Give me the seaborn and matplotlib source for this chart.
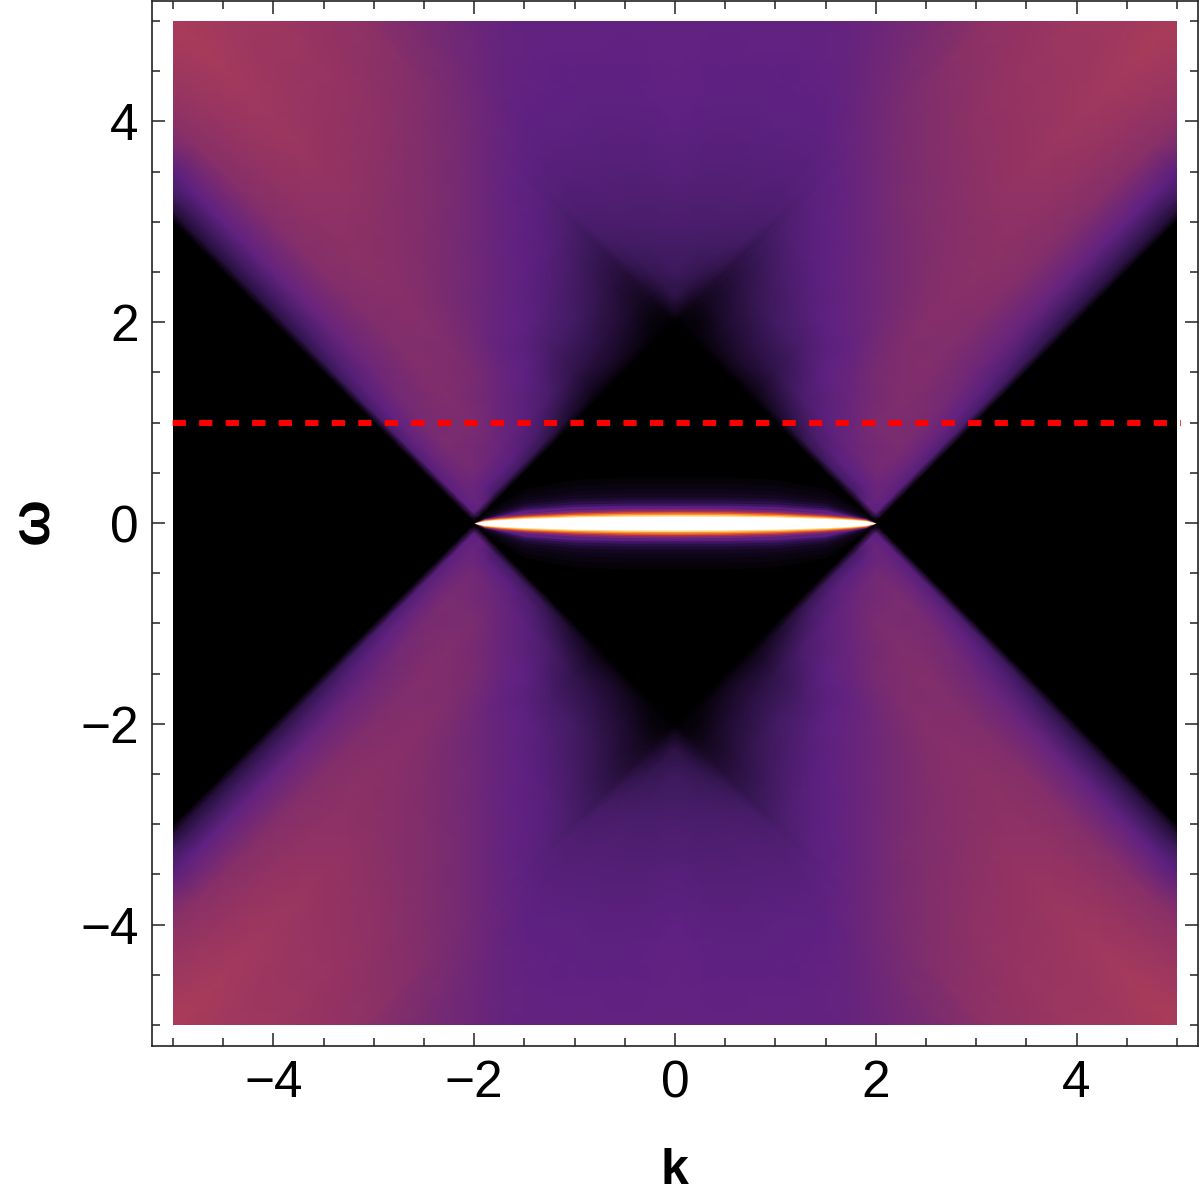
import numpy as np
import matplotlib
matplotlib.use("Agg")
import matplotlib.pyplot as plt
import seaborn as sns
from matplotlib.colors import LinearSegmentedColormap
from matplotlib.patches import Rectangle
from matplotlib.transforms import Affine2D

# ---- intensity, on light-cone coordinates u=k+w, v=k-w ----
axis_pos = [0, .5, 1, 1.5, 1.75, 1.9, 2, 2.1, 2.25, 2.5, 3, 3.5, 4, 4.5, 5, 5.5, 6, 6.5, 7, 7.5, 8, 8.5, 9, 9.5, 10]

# each row holds the values for u running over axis_pos from |v| up to 10-|v|
row_p190 = [0, 0, 38, 40, 38, 36, 33, 30, 26, 22, 19, 17, 16, 15, 14, 13]
row_p175 = [0, 0, 0, 42, 46, 46, 46, 44, 41, 37, 33, 29, 27, 26, 25, 24, 23]
row_p150 = [0, 0, 0, 0, 28, 40, 52, 56, 55, 52, 48, 46, 45, 44, 43, 42, 41, 40, 38]
row_p100 = [0, 0, 0, 0, 0, 26, 38, 46, 56, 60, 61, 60, 60, 61, 62, 62, 62, 63, 64, 65, 67]
row_p050 = [0, 0, 0, 0, 0, 0, 20, 30, 38, 46, 55, 59, 62, 64, 66, 67, 68, 70, 71, 73, 74, 76, 78]
row_000 = [0, 0, 0, 0, 0, 0, 0, 11, 18, 30, 40, 43, 50, 55, 60, 63, 66, 70, 73, 76, 78, 81, 83, 85, 87]
row_m050 = [0, 0, 0, 0, 0, 0, 5, 10, 19, 30, 40, 44, 50, 55, 60, 63, 67, 70, 73, 75, 77, 79, 81]
row_m100 = [0, 0, 0, 0, 0, 5, 10, 16, 27, 34, 40, 44, 50, 56, 60, 64, 68, 71, 74, 76, 78]
row_m150 = [0, 0, 0, 0, 3, 6, 11, 20, 28, 36, 40, 44, 50, 56, 60, 64, 67, 70, 72]
row_m175 = [0, 0, 0, 2, 3, 8, 16, 24, 33, 38, 42, 47, 53, 58, 62, 66, 69]
row_m190 = [0, 0, 2, 3, 7, 15, 23, 31, 37, 41, 46, 52, 57, 61, 65, 68]
row_m200 = [0, 2, 4, 8, 15, 22, 29, 35, 39, 44, 50, 55, 58, 61, 65]
row_m210 = [8, 9, 12, 20, 27, 32, 36, 39, 44, 49, 54, 57, 60]
row_m225 = [18, 19, 24, 29, 32, 35, 38, 43, 48, 52, 56, 59]
row_m250 = [25, 27, 31, 34, 36, 38, 40, 44, 49, 52, 55]
row_m300 = [32, 33, 35, 37, 39, 40, 42, 44, 48]
row_m350 = [37, 37, 38, 39, 40, 41, 42]
row_m400 = [40, 40, 40, 41, 42]
row_m450 = [41, 41, 41]
row_m500 = [42]
row_v = [1.9, 1.75, 1.5, 1, .5, 0, -.5, -1, -1.5, -1.75, -1.9, -2, -2.1, -2.25, -2.5, -3, -3.5, -4, -4.5, -5]
row_list = [row_p190, row_p175, row_p150, row_p100, row_p050, row_000, row_m050, row_m100, row_m150,
            row_m175, row_m190, row_m200, row_m210, row_m225, row_m250, row_m300, row_m350,
            row_m400, row_m450, row_m500]

# the thin bright band at w=0 and the faint glow round it
band_k = [-2, -1.9, -1.75, -1.5, -1, -.5, 0, .5, 1, 1.5, 1.75, 1.9, 2]
band_shape = [0, .31, .48, .66, .87, .97, 1, .97, .87, .66, .48, .31, 0]
glow_shape = [0, .2, .42, .75, .95, 1, 1, 1, .95, .75, .42, .2, 0]
glow_half = [.46, .40, .34, .30, .26, .23, .20, .175]
glow_colors = ["#050208", "#09040f", "#0e0618", "#140722", "#1e0b32", "#2b0f48", "#3f1666", "#5c1f7f"]
band_half = [.15, .13, .115, .10, .085, .07]
band_colors = ["#7a2872", "#a83254", "#e15532", "#fa9628", "#ffd782", "#ffffff"]

ref_k = [-5.04, 5.04]
ref_w = [1, 1]

k_ticks = [-4, -2, 0, 2, 4]
k_minor = [-5, -4.5, -3.5, -3, -2.5, -1.5, -1, -.5, .5, 1, 1.5, 2.5, 3, 3.5, 4.5, 5]
tick_text = ["\u22124", "\u22122", "0", "2", "4"]

cmap_pos = [0, .10, .25, .40, .58, .70, .87, 1]
cmap_col = ["#000000", "#1c0a2c", "#3e1a5e", "#5f2182", "#7d2d6e", "#913264", "#aa3c5a", "#c04a50"]

# ---- table ----
axis = np.array([-a for a in axis_pos[:0:-1]] + axis_pos, dtype=float)
n = len(axis)
Z = np.full((n, n), np.nan)
idx = {float(a): i for i, a in enumerate(axis)}
for v, row in zip(row_v, row_list):
    us = [a for a in axis_pos if abs(v) <= a <= 10 - abs(v)]
    for u, val in zip(us, row):
        iu, iv = idx[u], idx[v]
        Z[iv, iu] = Z[iu, iv] = Z[n - 1 - iu, n - 1 - iv] = Z[n - 1 - iv, n - 1 - iu] = val
U, V = np.meshgrid(axis, axis)
inside = (np.abs(U + V) <= 10) & (np.abs(U - V) <= 10)
Z[inside & np.isnan(Z)] = 0
while np.isnan(Z).any():
    P = np.pad(Z, 1, constant_values=np.nan)
    stack = np.stack([P[:-2, 1:-1], P[2:, 1:-1], P[1:-1, :-2], P[1:-1, 2:]])
    cnt = (~np.isnan(stack)).sum(axis=0)
    mean = np.nansum(stack, axis=0) / np.where(cnt == 0, 1, cnt)
    todo = np.isnan(Z) & (cnt > 0)
    Z[todo] = mean[todo]

# ---- figure ----
sns.set_style("ticks")
plt.rcParams["font.family"] = ["Liberation Sans", "DejaVu Sans"]
fig = plt.figure(figsize=(12, 11.97), dpi=100)
W, H = 1200, 1197
ax = fig.add_axes([152 / W, 1 - 1046 / H, (1197.5 - 152) / W, (1046 - 1) / H])

cmap = LinearSegmentedColormap.from_list("spec", list(zip(cmap_pos, cmap_col)), N=512)
to_kw = Affine2D(np.array([[.5, .5, 0], [.5, -.5, 0], [0, 0, 1]]))
mesh = ax.pcolormesh(axis, axis, Z, shading="gouraud", cmap=cmap, vmin=0, vmax=100,
                     transform=to_kw + ax.transData, rasterized=True)
mesh.set_clip_path(Rectangle((-5, -5), 10, 10, transform=ax.transData))

bk = np.array(band_k)
for hw, col in zip(glow_half, glow_colors):
    ax.fill_between(bk, -hw * np.array(glow_shape), hw * np.array(glow_shape), color=col, lw=0)
for hw, col in zip(band_half, band_colors):
    ax.fill_between(bk, -hw * np.array(band_shape), hw * np.array(band_shape), color=col, lw=0)

sns.lineplot(x=ref_k, y=ref_w, ax=ax, color="#ff0000", lw=4.3, errorbar=None,
             linestyle=(3.83, (2.22, 2.22)))

ax.set_xlim(-5.209, 5.204)
ax.set_ylim(-5.209, 5.2)
ax.set_xticks(k_ticks, tick_text)
ax.set_yticks(k_ticks, tick_text)
ax.set_xticks(k_minor, minor=True)
ax.set_yticks(k_minor, minor=True)
ax.tick_params(which="major", direction="in", length=9.4, width=1.1, color="#222222",
               top=True, right=True, labelsize=37, labelcolor="black", pad=9.5)
ax.tick_params(which="minor", direction="in", length=5.8, width=1.1, color="#222222",
               top=True, right=True)
for s in ax.spines.values():
    s.set_linewidth(1.2)
    s.set_color("#222222")
ax.set_xlabel("k", fontsize=36, fontweight="bold", color="black")
ax.set_ylabel("\u03c9", fontsize=40, fontweight="bold", color="black")
ax.xaxis.set_label_coords(0.5, -0.0976)
ax.yaxis.set_label_coords(-0.0885, 0.5025)
fig.savefig("out.png", dpi=100)
